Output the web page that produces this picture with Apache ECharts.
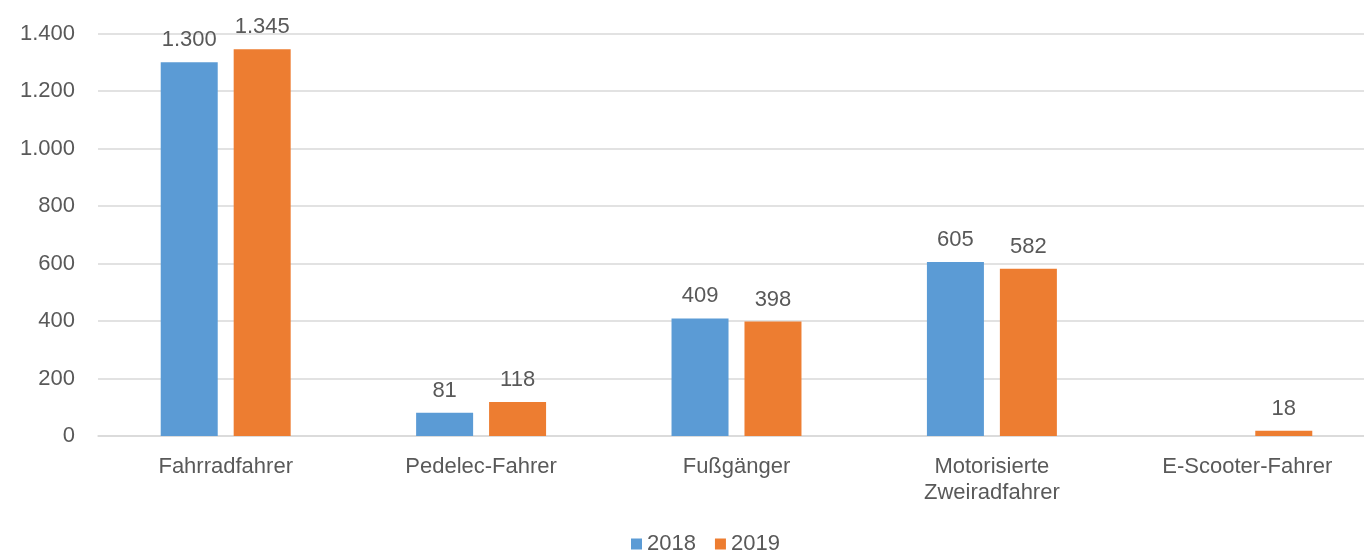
<!DOCTYPE html>
<html>
<head>
<meta charset="utf-8">
<script src="https://cdn.jsdelivr.net/npm/echarts@6/dist/echarts.min.js"></script>
<style>
  html, body { margin: 0; padding: 0; background: #fff; overflow: hidden; }
  /* the plot runs slightly past the right edge of the window */
  #chart { width: 1376px; height: 553px; }
</style>
</head>
<body>
<div id="chart"></div>
<script>
// Verunglückte nach Verkehrsbeteiligung, 2018 und 2019
const categories = ['Fahrradfahrer', 'Pedelec-Fahrer', 'Fußgänger', 'Motorisierte\nZweiradfahrer', 'E-Scooter-Fahrer'];
const values2018 = [1300, 81, 409, 605, null];
const values2019 = [1345, 118, 398, 582, 18];
const seriesNames = ['2018', '2019'];
const yTicks = { min: 0, max: 1400, step: 200 };

const textColor = '#595959';
const fontFamily = '"Liberation Sans", Arial, sans-serif';
const fontSize = 22;
const fmt = v => String(v).replace(/\B(?=(\d{3})+(?!\d))/g, '.');

const chart = echarts.init(document.getElementById('chart'), null, { renderer: 'canvas' });

const labelStyle = {
  show: true,
  position: 'top',
  distance: 11,
  color: textColor,
  fontFamily: fontFamily,
  fontSize: fontSize,
  formatter: p => fmt(p.value)
};

chart.setOption({
  animation: false,
  color: ['#5B9BD5', '#ED7D31'],
  grid: { left: 98, top: 33.5, right: 1, bottom: 117, containLabel: false },
  legend: {
    data: seriesNames,
    top: 528,
    left: 626,
    icon: 'rect',
    itemWidth: 11,
    itemHeight: 11,
    itemGap: 19,
    textStyle: { color: textColor, fontFamily: fontFamily, fontSize: fontSize }
  },
  xAxis: {
    type: 'category',
    data: categories,
    axisLine: { lineStyle: { color: '#D9D9D9', width: 1.5 } },
    axisTick: { show: false },
    axisLabel: {
      color: textColor,
      fontFamily: fontFamily,
      fontSize: fontSize,
      margin: 18,
      lineHeight: 26
    }
  },
  yAxis: {
    type: 'value',
    min: yTicks.min,
    max: yTicks.max,
    interval: yTicks.step,
    axisLine: { show: false },
    axisTick: { show: false },
    splitLine: { lineStyle: { color: '#D9D9D9', width: 1.5 } },
    axisLabel: {
      color: textColor,
      fontFamily: fontFamily,
      fontSize: fontSize,
      margin: 23,
      formatter: v => fmt(v)
    }
  },
  series: [
    {
      name: seriesNames[0],
      type: 'bar',
      data: values2018,
      barWidth: 57,
      barGap: '28%',
      label: labelStyle
    },
    {
      name: seriesNames[1],
      type: 'bar',
      data: values2019,
      barWidth: 57,
      barGap: '28%',
      label: labelStyle
    }
  ]
});
</script>
</body>
</html>
